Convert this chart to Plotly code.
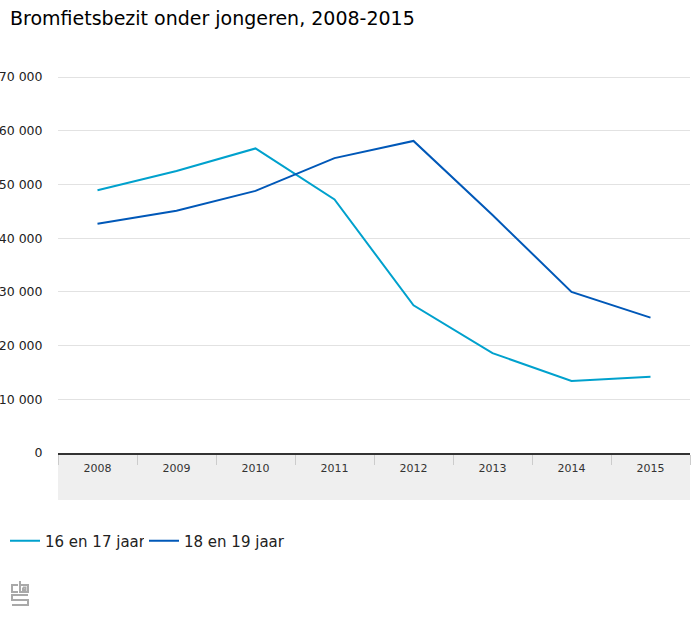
import plotly.graph_objects as go

years = ["2008", "2009", "2010", "2011", "2012", "2013", "2014", "2015"]
age_16_17 = [48900, 52500, 56700, 47200, 27500, 18600, 13400, 14200]
age_18_19 = [42700, 45100, 48800, 54900, 58100, 44300, 30000, 25200]
series_names = ["16 en 17 jaar", "18 en 19 jaar"]
y_ticks = [0, 10000, 20000, 30000, 40000, 50000, 60000, 70000]
title_text = "Bromfietsbezit onder jongeren, 2008-2015"

FONT = "DejaVu Sans"
W, H = 700, 626
L, R, T, B = 58, 10, 72, 173
PW, PH = W - L - R, H - T - B
y_top = (H - B - T) / 376 * 70000

def px(x):
    return (x - L) / PW

def py(y):
    return (H - B - y) / PH

fig = go.Figure()
fig.add_trace(go.Scatter(x=years, y=age_16_17, name=series_names[0], mode="lines",
                         line=dict(color="#00a1cd", width=2), legend="legend"))
fig.add_trace(go.Scatter(x=years, y=age_18_19, name=series_names[1], mode="lines",
                         line=dict(color="#0058b8", width=2), legend="legend2"))

shapes = []
shapes.append(dict(type="rect", xref="paper", yref="paper", x0=0, x1=1,
                   y0=py(500), y1=py(455), fillcolor="#efefef", line=dict(width=0), layer="below"))

# cbs logo approximation (pixel paths converted to paper coords)
g = "#a9a9a9"
def path(points):
    d = "M " + " L ".join(f"{px(x):.5f},{py(y):.5f}" for x, y in points)
    shapes.append(dict(type="path", xref="paper", yref="paper", path=d,
                       line=dict(color=g, width=2), fillcolor="rgba(0,0,0,0)"))
path([(18, 585), (12, 585), (12, 592), (18, 592)])            # c
path([(20, 581), (20, 592), (28, 592), (28, 585), (20, 585)])  # b
path([(23, 587.5), (25.5, 587.5), (25.5, 590), (23, 590), (23, 587.5)])
path([(28, 595), (12, 595), (12, 600), (28, 600), (28, 605), (12, 605)])  # s

legend_style = dict(orientation="h", xref="container", yref="container",
                    xanchor="left", y=(H - 541) / H, yanchor="middle",
                    font=dict(size=15, color="#222222"))

fig.update_layout(
    width=W, height=H,
    margin=dict(l=L, r=R, t=T, b=B, autoexpand=False),
    paper_bgcolor="white", plot_bgcolor="white",
    separators=", ",
    font=dict(family=FONT, color="#333333"),
    title=dict(text=title_text, x=10 / W, xanchor="left", xref="container",
               y=1 - 18 / H, yanchor="middle", yref="container",
               font=dict(family=FONT, size=19, color="#000000")),
    xaxis=dict(type="category", showgrid=False, showline=True, linecolor="#333333",
               linewidth=2, ticks="outside", tickson="boundaries", ticklen=10,
               tickcolor="#cccccc", tickwidth=1, tickfont=dict(size=11, color="#333333"),
               ticklabelstandoff=4,
               range=[-0.5, 7.5], zeroline=False, automargin=False),
    yaxis=dict(range=[0, y_top], tickvals=y_ticks, tickformat=",d", showgrid=True,
               gridcolor="#e2e2e2", gridwidth=1, zeroline=False, showline=False,
               ticks="outside", ticklen=12, tickcolor="rgba(0,0,0,0)",
               tickfont=dict(size=12.5, color="#222222"), automargin=False),
    showlegend=True,
    legend=dict(x=5 / W, **legend_style),
    legend2=dict(x=144 / W, **legend_style),
    shapes=shapes,
)

fig.write_html("out.html", config={"displayModeBar": False},
               post_script="document.body.style.margin='0';")
